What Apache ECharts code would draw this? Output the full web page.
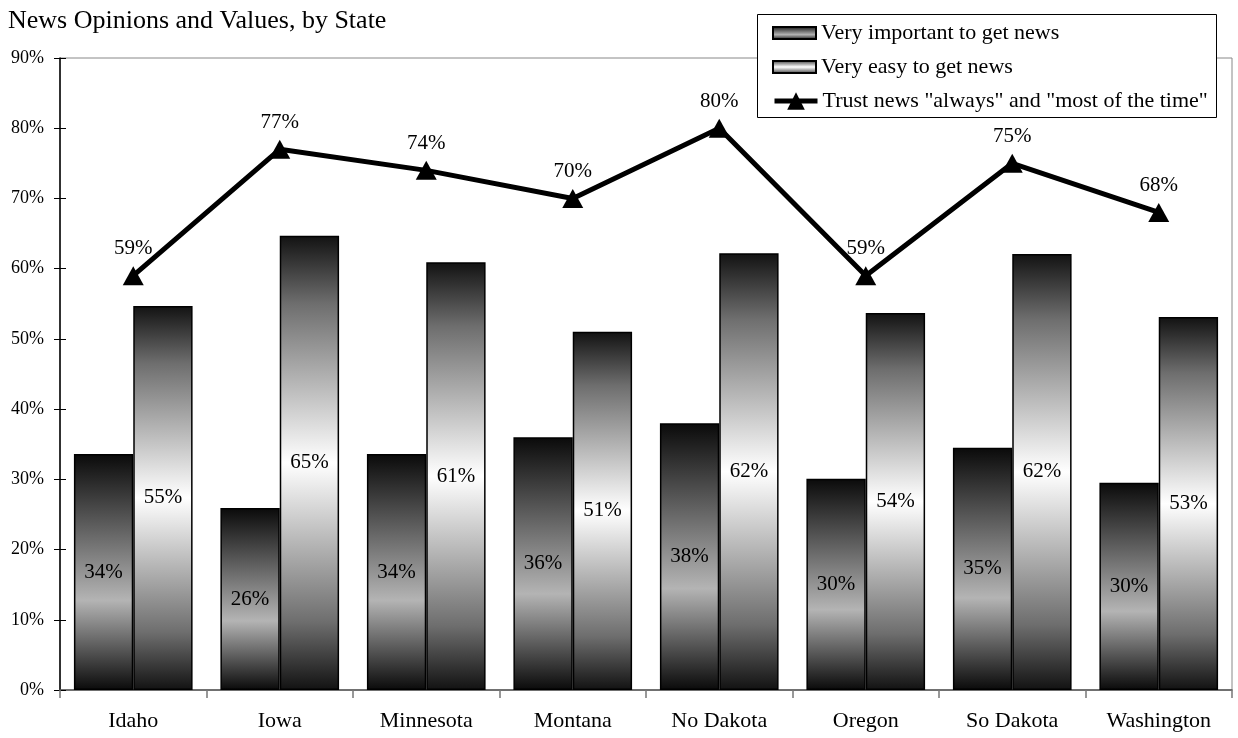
<!DOCTYPE html>
<html>
<head>
<meta charset="utf-8">
<title>News Opinions and Values, by State</title>
<script src="https://cdn.jsdelivr.net/npm/echarts@6/dist/echarts.min.js"></script>
<style>
  html, body { margin: 0; padding: 0; background: #fff; }
  #chart { width: 1238px; height: 738px; }
</style>
</head>
<body>
<div id="chart"></div>
<script>
// States along the category axis
const states = ['Idaho', 'Iowa', 'Minnesota', 'Montana', 'No Dakota', 'Oregon', 'So Dakota', 'Washington'];

// Share of respondents (%) per state
const veryImportant = [33.6, 25.9, 33.6, 36.0, 38.0, 30.1, 34.5, 29.5];
const veryEasy = [54.7, 64.7, 60.9, 51.0, 62.2, 53.7, 62.1, 53.1];
const trustNews = [59, 77, 74, 70, 80, 59, 75, 68];

// Value axis ticks
const yMin = 0, yMax = 90, yStep = 10;

const serif = '"Liberation Serif", "DejaVu Serif", serif';

const NAME_IMPORTANT = 'Very important to get news';
const NAME_EASY = 'Very easy to get news';
const NAME_TRUST = 'Trust news "always" and "most of the time"';

function vGrad(stops) {
  return {
    type: 'linear', x: 0, y: 0, x2: 0, y2: 1,
    colorStops: stops.map(s => ({ offset: s[0], color: s[1] }))
  };
}

const gradImportant = vGrad([[0, '#0a0a0a'], [0.62, '#b4b4b4'], [1, '#0a0a0a']]);
const gradEasy = vGrad([[0, '#121212'], [0.15, '#6e6e6e'], [0.5, '#ffffff'], [0.85, '#6e6e6e'], [1, '#121212']]);

const pct = p => Math.round(p.value) + '%';

const legendText = { fontFamily: serif, fontSize: 22, color: '#000', lineHeight: 24 };

const chart = echarts.init(document.getElementById('chart'), null, { renderer: 'canvas' });

chart.setOption({
  animation: false,
  backgroundColor: '#fff',
  textStyle: { fontFamily: serif, color: '#000' },
  title: {
    text: 'News Opinions and Values, by State',
    left: 3, top: 3,
    textStyle: { fontFamily: serif, fontSize: 26, fontWeight: 'normal', color: '#000' }
  },
  // Legend frame
  graphic: [{
    type: 'rect',
    left: 757, top: 14,
    shape: { width: 459, height: 103 },
    style: { fill: '#fff', stroke: '#000', lineWidth: 1 },
    z: 10
  }],
  legend: [
    {
      orient: 'vertical',
      left: 772, top: 21,
      padding: 0,
      itemGap: 10,
      itemWidth: 43, itemHeight: 12,
      icon: 'rect',
      textStyle: legendText,
      data: [NAME_IMPORTANT, NAME_EASY],
      z: 20
    },
    {
      orient: 'vertical',
      left: 772, top: 89,
      padding: 0,
      itemWidth: 43, itemHeight: 22,
      lineStyle: { width: 5, color: '#000' },
      textStyle: legendText,
      data: [NAME_TRUST],
      z: 20
    }
  ],
  grid: {
    left: 60, right: 6, top: 58, bottom: 48,
    show: true, borderColor: '#888', borderWidth: 1, backgroundColor: 'transparent'
  },
  xAxis: {
    type: 'category',
    data: states,
    axisLine: { lineStyle: { color: '#555', width: 1.5 } },
    axisTick: { show: true, length: 8, lineStyle: { color: '#777', width: 1.5 } },
    axisLabel: { fontFamily: serif, fontSize: 22, color: '#000', margin: 20 },
    splitLine: { show: false }
  },
  yAxis: [
    {
      type: 'value', min: yMin, max: yMax, interval: yStep,
      axisLine: { show: true, lineStyle: { color: '#000', width: 1.5 } },
      axisTick: { show: true, length: 6, lineStyle: { color: '#000' } },
      axisLabel: { fontFamily: serif, fontSize: 18, color: '#000', margin: 16, formatter: '{value}%' },
      splitLine: { show: false }
    },
    {
      type: 'value', min: yMin, max: yMax, interval: yStep, position: 'left',
      axisLine: { show: false },
      axisTick: { show: true, inside: true, length: 6, lineStyle: { color: '#000' } },
      axisLabel: { show: false },
      splitLine: { show: false }
    }
  ],
  series: [
    {
      name: NAME_IMPORTANT,
      type: 'bar',
      data: veryImportant,
      barGap: '0%',
      barCategoryGap: '19%',
      itemStyle: { color: gradImportant, borderColor: '#000', borderWidth: 1.5 },
      label: { show: true, position: 'inside', fontFamily: serif, fontSize: 21, color: '#000', formatter: pct },
      z: 2
    },
    {
      name: NAME_EASY,
      type: 'bar',
      data: veryEasy,
      barGap: '0%',
      barCategoryGap: '19%',
      itemStyle: { color: gradEasy, borderColor: '#000', borderWidth: 1.5 },
      label: { show: true, position: 'inside', fontFamily: serif, fontSize: 21, color: '#000', formatter: pct },
      z: 2
    },
    {
      name: NAME_TRUST,
      type: 'line',
      data: trustNews,
      symbol: 'triangle',
      symbolSize: [21, 19],
      lineStyle: { color: '#000', width: 5 },
      itemStyle: { color: '#000' },
      label: { show: true, position: 'top', distance: 7, fontFamily: serif, fontSize: 21, color: '#000', formatter: pct },
      z: 5
    }
  ]
});
</script>
</body>
</html>
